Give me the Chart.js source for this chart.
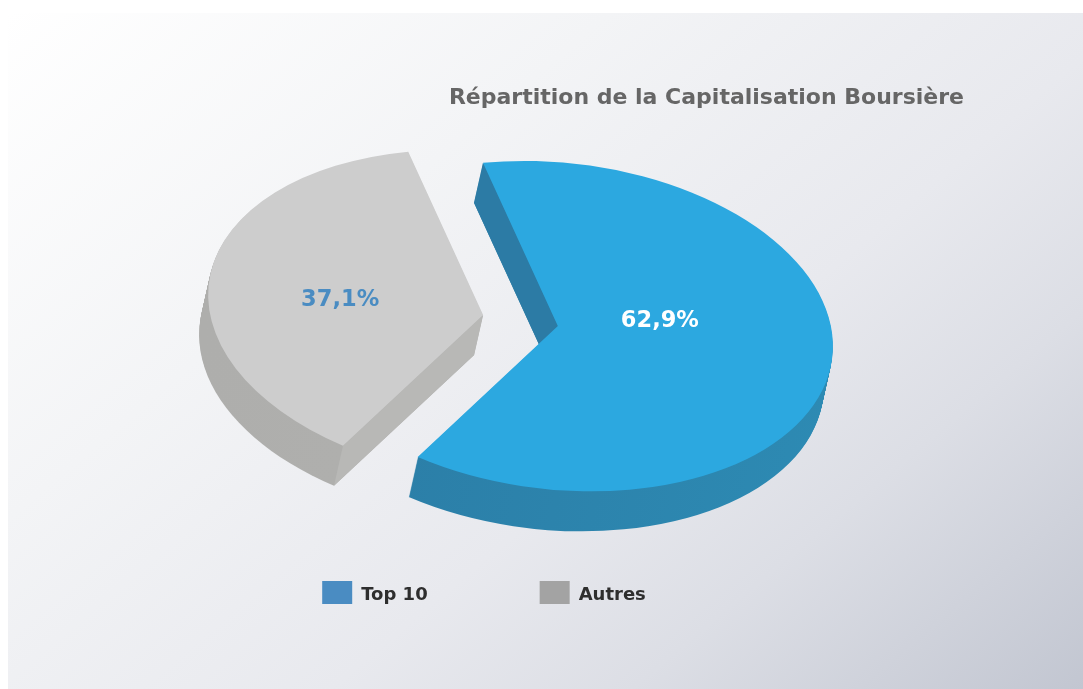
<!DOCTYPE html>
<html>
<head>
<meta charset="utf-8">
<title>Répartition de la Capitalisation Boursière</title>
<script src="https://cdn.jsdelivr.net/npm/chart.js@4"></script>
<style>
    html, body { margin: 0; padding: 0; background: #fff; overflow: hidden; }
    #wrap { position: relative; width: 1083px; height: 689px; }
    #bg {
        position: absolute; left: 8px; top: 13px; right: 0; bottom: 0;
        background: linear-gradient(140deg, #ffffff 0%, #f3f4f6 32%, #e8e9ee 60%, #dcdee5 76%, #c2c6d1 100%);
    }
    canvas { position: absolute; left: 0; top: 0; }
</style>
</head>
<body>
<div id="wrap">
    <div id="bg"></div>
    <canvas id="pie" width="1083" height="689"></canvas>
</div>
<script>
const categories = ["Top 10", "Autres"];
const shares = [62.9, 37.1];
const shareLabels = ["62,9%", "37,1%"];

const topColors = ["#2ca8e0", "#cdcdcd"];
const rimColors = [["#2b7ca5", "#2d8ab3"], ["#aeaeac", "#b2b2b0"]];
const cutColors = ["#2c7ba5", "#b8b8b6"];
const legendColors = ["#4a8cc2", "#a3a3a3"];
const labelColors = ["#ffffff", "#4a8cc2"];

// fake 3d: the flat pie is sheared into an ellipse and pushed down for the wall
const center = { x: 520.5, y: 320.5 };
const tilt = { xx: 275, yx: 20, yy: 164 };
const depth = { x: -9, y: 40 };
const explode = 0.137;
const labelShift = [{ x: 102, y: -5 }, { x: -143, y: -15 }];

function project(arc, px, py) {
    let R = arc.outerRadius;
    let mid = (arc.startAngle + arc.endAngle) / 2;
    let ux = (px - arc.x) / R + Math.cos(mid) * explode;
    let uy = (py - arc.y) / R + Math.sin(mid) * explode;
    return { x: center.x + tilt.xx * ux, y: center.y + tilt.yx * ux + tilt.yy * uy };
}

function placeArc(ctx, arc, dx, dy) {
    let R = arc.outerRadius;
    let o = project(arc, arc.x, arc.y);
    let a = tilt.xx / R, b = tilt.yx / R, d = tilt.yy / R;
    ctx.transform(a, b, 0, d, o.x + dx - a * arc.x, o.y + dy - b * arc.x - d * arc.y);
}

const pie3d = {
    id: "pie3d",
    beforeDatasetDraw(chart, args) {
        let ctx = chart.ctx;
        args.meta.data.forEach((arc, i) => {
            let R = arc.outerRadius;

            // outer wall
            for (let d = 40; d >= 1; d--) {
                ctx.save();
                placeArc(ctx, arc, depth.x * d / 40, depth.y * d / 40);
                let grad = ctx.createLinearGradient(arc.x - R, 0, arc.x + R, 0);
                grad.addColorStop(0, rimColors[i][0]);
                grad.addColorStop(1, rimColors[i][1]);
                ctx.fillStyle = grad;
                ctx.beginPath();
                ctx.moveTo(arc.x, arc.y);
                ctx.arc(arc.x, arc.y, R, arc.startAngle, arc.endAngle);
                ctx.closePath();
                ctx.fill();
                ctx.restore();
            }

            // cut face on the start edge of the slice
            let p0 = project(arc, arc.x, arc.y);
            let p1 = project(arc, arc.x + R * Math.cos(arc.startAngle), arc.y + R * Math.sin(arc.startAngle));
            ctx.fillStyle = cutColors[i];
            ctx.beginPath();
            ctx.moveTo(p0.x, p0.y);
            ctx.lineTo(p1.x, p1.y);
            ctx.lineTo(p1.x + depth.x, p1.y + depth.y);
            ctx.lineTo(p0.x + depth.x, p0.y + depth.y);
            ctx.closePath();
            ctx.fill();

            ctx.save();
            placeArc(ctx, arc, 0, 0);
            arc.draw(ctx);
            ctx.restore();
        });

        args.meta.data.forEach((arc, i) => {
            let p = project(arc, arc.x, arc.y);
            ctx.save();
            ctx.font = "bold 22.5px 'DejaVu Sans'";
            ctx.textAlign = "center";
            ctx.textBaseline = "middle";
            ctx.fillStyle = labelColors[i];
            ctx.fillText(shareLabels[i], p.x + labelShift[i].x, p.y + labelShift[i].y);
            ctx.restore();
        });
        return false;
    }
};

// legend text sits lower than its swatch, so the swatch is painted from the hit box
const legendSwatches = {
    id: "legendSwatches",
    afterDraw(chart) {
        let ctx = chart.ctx;
        chart.legend.legendHitBoxes.forEach((box, i) => {
            ctx.fillStyle = legendColors[i];
            ctx.fillRect(box.left, box.top, 30, 23);
        });
    }
};

let pieChart = new Chart(document.getElementById("pie").getContext("2d"), {
    type: "pie",
    plugins: [pie3d, legendSwatches],
    data: {
        labels: categories,
        datasets: [{
            data: shares,
            backgroundColor: topColors,
            borderWidth: 0
        }]
    },
    options: {
        responsive: false,
        animation: false,
        devicePixelRatio: 1,
        rotation: -15.8,
        layout: { padding: { left: 4, right: 119, top: 85, bottom: 69 } },
        plugins: {
            tooltip: { enabled: false },
            title: {
                display: true,
                text: "Répartition de la Capitalisation Boursière",
                align: "end",
                color: "#666666",
                font: { family: "'DejaVu Sans'", size: 22, weight: "bold" },
                padding: 0
            },
            legend: {
                position: "bottom",
                labels: {
                    boxWidth: 30,
                    boxHeight: 29,
                    padding: 112,
                    color: "#2e2e2e",
                    font: { family: "'DejaVu Sans'", size: 18, weight: "bold" },
                    generateLabels: function () {
                        return categories.map((name, i) => ({
                            text: name,
                            fillStyle: "rgba(0,0,0,0)",
                            strokeStyle: "rgba(0,0,0,0)",
                            lineWidth: 0,
                            fontColor: "#2e2e2e",
                            index: i
                        }));
                    }
                }
            }
        }
    }
});
</script>
</body>
</html>
